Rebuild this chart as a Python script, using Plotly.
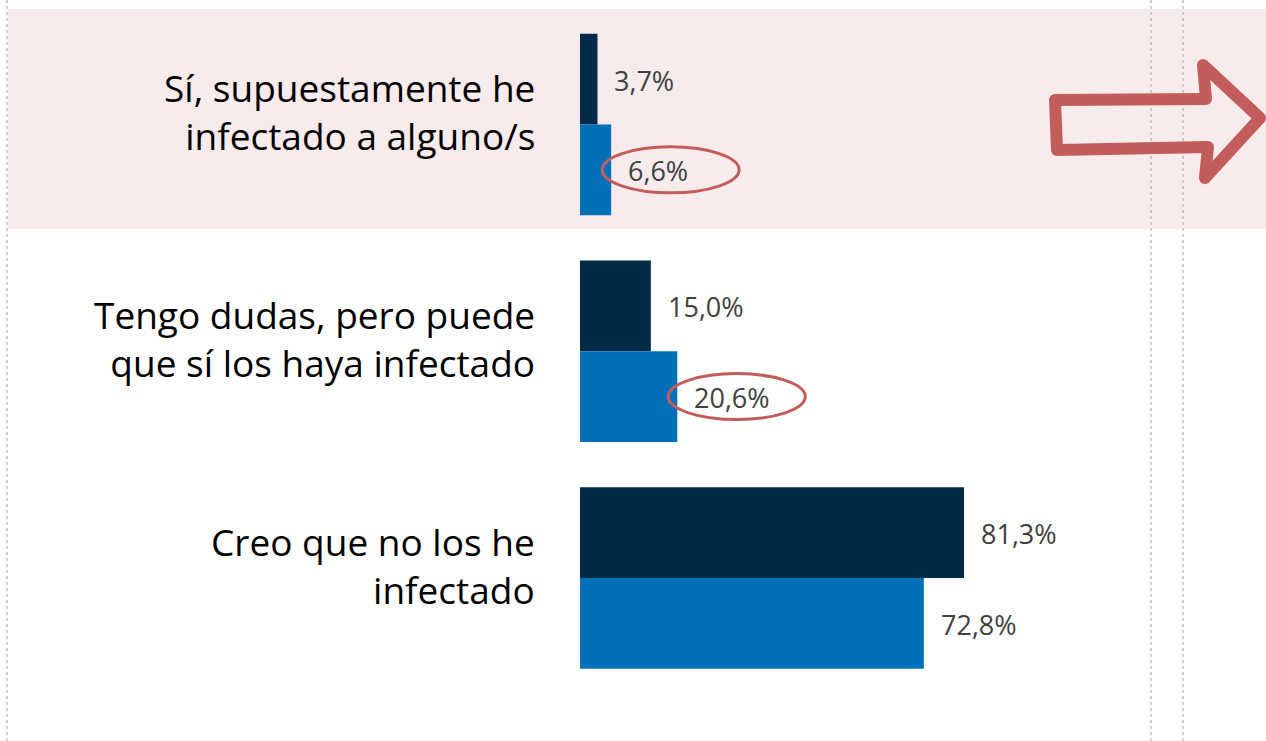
import plotly.graph_objects as go

categories = ["Sí, supuestamente he<br>infectado a alguno/s",
              "Tengo dudas, pero puede<br>que sí los haya infectado",
              "Creo que no los he<br>infectado"]
serie_a = [3.7, 15.0, 81.3]
serie_b = [6.6, 20.6, 72.8]
circled_b = [True, True, False]

W, H = 1266, 741
ML = 580
C_DARK = "#002B47"
C_BLUE = "#0070B8"
C_RED = "#C35D5B"
C_PINK = "#F7EBEC"
C_TXT = "#404040"

ypos = list(range(len(categories)))

def px(x):
    return (x - ML) / (W - ML)

def py(y):
    return 1 - y / H

fig = go.Figure()
fig.add_trace(go.Bar(y=ypos, x=serie_a, orientation="h", marker=dict(color=C_DARK, line_width=0), name="A"))
fig.add_trace(go.Bar(y=ypos, x=serie_b, orientation="h", marker=dict(color=C_BLUE, line_width=0), name="B"))

def fmt(v):
    return f"{v:.1f}".replace(".", ",") + "%"

ann = []
for i, (a, b) in enumerate(zip(serie_a, serie_b)):
    ann.append(dict(x=a, y=i - 0.2, text=fmt(a), xanchor="left", yanchor="middle", xshift=15, yshift=-1,
                    showarrow=False, font=dict(family="Open Sans", size=27, color=C_TXT)))
    ann.append(dict(x=b, y=i + 0.2, text=fmt(b), xanchor="left", yanchor="middle", xshift=15, yshift=-1,
                    showarrow=False, font=dict(family="Open Sans", size=27, color=C_TXT)))
# category labels
for i, c in enumerate(categories):
    ann.append(dict(xref="paper", x=0, y=i, text=c, xanchor="right", yanchor="middle", align="right",
                    xshift=-43, yshift=13, showarrow=False,
                    font=dict(family="Open Sans", size=37, color="#000000")))

shapes = []
# pink highlight band
shapes.append(dict(type="rect", xref="paper", yref="paper", x0=px(8), x1=px(1266), y0=py(229), y1=py(9),
                   fillcolor=C_PINK, line_width=0, layer="below"))
# dotted guide lines
for xl in (7, 1151, 1183):
    shapes.append(dict(type="line", xref="paper", yref="paper", x0=px(xl), x1=px(xl), y0=0, y1=1,
                       line=dict(color="#A6A6A6", width=1, dash="dot"), layer="above"))
# ellipses around circled values
for i, (b, c) in enumerate(zip(serie_b, circled_b)):
    if c:
        shapes.append(dict(type="circle", xref="x", yref="y", xsizemode="pixel", ysizemode="pixel",
                           xanchor=b, yanchor=i + 0.2, x0=-9, x1=128, y0=-23, y1=23,
                           line=dict(color=C_RED, width=3)))
# hand-drawn arrow (segments + round joins)
pts = [(1055, 100), (1206, 99), (1203, 65), (1260, 118), (1205, 178), (1208, 147), (1057, 150)]
n = len(pts)
for k in range(n):
    (x0, y0), (x1, y1) = pts[k], pts[(k + 1) % n]
    shapes.append(dict(type="line", xref="paper", yref="paper", x0=px(x0), y0=py(y0), x1=px(x1), y1=py(y1),
                       line=dict(color=C_RED, width=12)))
for (x, y) in pts:
    shapes.append(dict(type="circle", xref="paper", yref="paper", xsizemode="pixel", ysizemode="pixel",
                       xanchor=px(x), yanchor=py(y), x0=-6, x1=6, y0=-6, y1=6,
                       fillcolor=C_RED, line_width=0))

y_top = -124.5 / 226.75
y_bot = (H - 124.5) / 226.75

fig.update_layout(
    width=W, height=H,
    margin=dict(l=ML, r=0, t=0, b=0),
    paper_bgcolor="white", plot_bgcolor="rgba(0,0,0,0)",
    barmode="group", bargap=0.2, bargroupgap=0,
    showlegend=False,
    xaxis=dict(range=[0, (W - ML) / 4.7232], visible=False, fixedrange=True),
    yaxis=dict(range=[y_bot, y_top], tickvals=ypos, showticklabels=False, showgrid=False,
               zeroline=False, showline=False, ticks="", fixedrange=True),
    annotations=ann, shapes=shapes,
)

fig.write_html("out.html", config={"displayModeBar": False},
               post_script="document.body.style.margin='0';document.body.style.overflow='hidden';")
